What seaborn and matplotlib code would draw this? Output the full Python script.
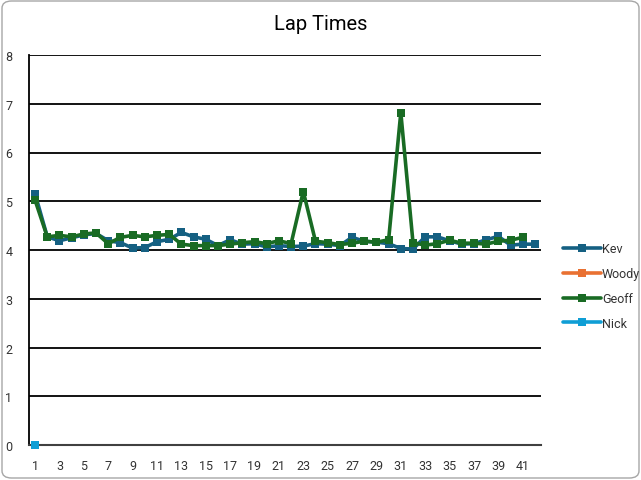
import numpy as np
import pandas as pd
import matplotlib
matplotlib.use("Agg")
import matplotlib.pyplot as plt
from matplotlib.lines import Line2D
from matplotlib.patches import FancyBboxPatch
from matplotlib.ticker import MultipleLocator
import seaborn as sns

laps = list(range(1, 43))
kev = [5.15, 4.27, 4.19, 4.25, 4.31, 4.34, 4.19, 4.15, 4.04, 4.05,
       4.17, 4.22, 4.36, 4.27, 4.22, 4.09, 4.21, 4.12, 4.13, 4.06,
       4.09, 4.07, 4.08, 4.13, 4.12, 4.09, 4.26, 4.18, 4.16, 4.13,
       4.03, 4.02, 4.27, 4.27, 4.19, 4.12, 4.13, 4.21, 4.28, 4.10,
       4.12, 4.12]
geoff = [5.02, 4.27, 4.30, 4.27, 4.33, 4.35, 4.13, 4.26, 4.30, 4.27,
         4.30, 4.32, 4.12, 4.09, 4.09, 4.09, 4.12, 4.15, 4.17, 4.13,
         4.19, 4.13, 5.20, 4.18, 4.15, 4.11, 4.14, 4.18, 4.16, 4.21,
         6.82, 4.15, 4.10, 4.13, 4.20, 4.14, 4.14, 4.12, 4.18, 4.20,
         4.26, np.nan]
woody = [np.nan] * 42
nick = [0.0] + [np.nan] * 41

drivers = ["Kev", "Woody", "Geoff", "Nick"]
colors = {"Kev": "#156082", "Woody": "#E97132", "Geoff": "#196B24", "Nick": "#0F9ED5"}
x_labels = [str(i) for i in range(1, 43, 2)]

series = {"Kev": kev, "Woody": woody, "Geoff": geoff, "Nick": nick}
rows = []
for d in drivers:
    for lap, v in zip(laps, series[d]):
        rows.append({"lap": lap, "time": v, "driver": d})
df = pd.DataFrame(rows)

sns.set_style("white")
plt.rcParams["font.family"] = ["Roboto", "DejaVu Sans"]

fig = plt.figure(figsize=(6.41, 4.81), dpi=100)
ax = fig.add_axes([29 / 641, 1 - 446 / 481, (541 - 29) / 641, (446 - 56) / 481])

for d in ["Kev", "Geoff", "Nick"]:
    sub = df[(df.driver == d)].dropna()
    sns.lineplot(data=sub, x="lap", y="time", color=colors[d], marker="s",
                 markersize=6, markeredgewidth=0, linewidth=2.6, ax=ax,
                 legend=False, clip_on=False, zorder=3)

ax.set_xlim(0.5, 42.5)
ax.set_ylim(0, 8)
ax.yaxis.set_major_locator(MultipleLocator(1))
ax.yaxis.set_minor_locator(MultipleLocator(0.2))
ax.set_xticks(range(1, 43, 2))
ax.set_xticklabels(x_labels)
ax.xaxis.set_minor_locator(MultipleLocator(0.5))
ax.grid(axis="y", which="major", color="#000000", linewidth=1.3)
ax.set_axisbelow(True)
for s in ["top", "right"]:
    ax.spines[s].set_visible(False)
ax.spines["left"].set_color("#000000")
ax.spines["bottom"].set_color("#404040")
ax.spines["left"].set_linewidth(1.3)
ax.spines["bottom"].set_linewidth(1.5)
ax.tick_params(axis="both", which="major", direction="inout", length=8, width=1.0,
               color="#000000", labelsize=9, labelcolor="#333333")
ax.tick_params(axis="both", which="minor", direction="inout", length=8, width=1.0,
               color="#000000")
ax.tick_params(axis="x", which="major", pad=6)
ax.tick_params(axis="y", which="major", pad=8)
ax.set_xlabel("")
ax.set_ylabel("")

fig.text(0.5, 1 - 25 / 481, "Lap Times", ha="center", va="center", fontsize=14.5,
         color="#000000")

handles = [Line2D([0], [0], color=colors[d], linewidth=2.6, marker="s",
                  markersize=6, markeredgewidth=0) for d in drivers]
fig.legend(handles, drivers, loc="center left", bbox_to_anchor=(552 / 641, 1 - 287 / 481),
           frameon=False, fontsize=9, handlelength=3.0, handletextpad=0.1,
           labelspacing=0.95, labelcolor="#333333")

border = FancyBboxPatch((2 / 641, 2 / 481), 637 / 641, 477 / 481,
                        boxstyle="round,pad=0,rounding_size=0.015",
                        transform=fig.transFigure, fill=False,
                        edgecolor="#A6A6A6", linewidth=1.0)
fig.patches.append(border)

fig.savefig("out.png", dpi=100)
